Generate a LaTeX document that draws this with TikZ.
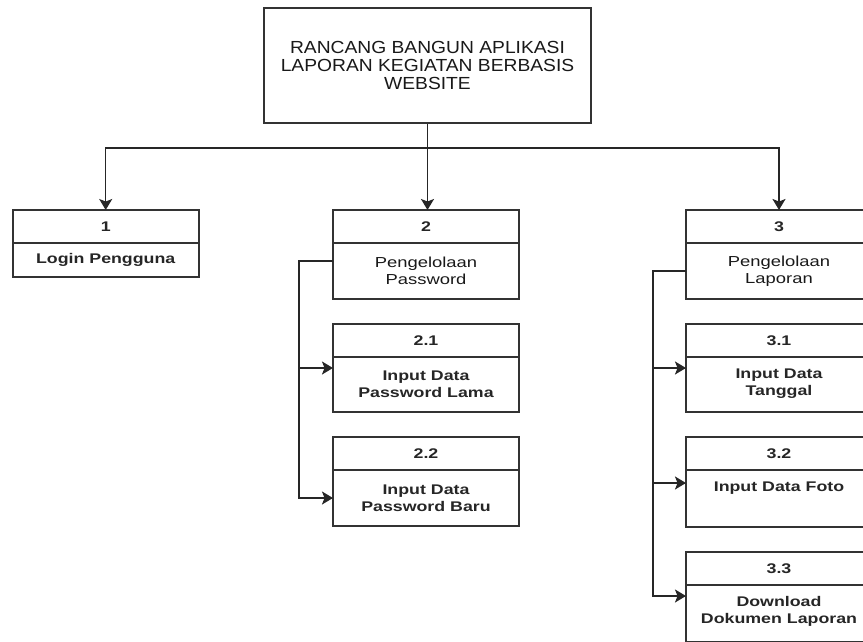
\documentclass[tikz,border=0pt]{standalone}
\usepackage{fontspec}
\setmainfont{Liberation Sans}
\newfontfamily\titlefont[FakeStretch=1.1]{Liberation Sans}
\newfontfamily\boxfont[FakeStretch=1.27]{Liberation Sans}
\usetikzlibrary{arrows.meta,calc}

\tikzset{
  frame/.style={rectangle, draw=black!80, line width=2.4pt, fill=white,
    minimum width=186pt, inner sep=0pt, outer sep=0pt, anchor=north west},
  divider/.style={draw=black!80, line width=2.2pt},
  boxtext/.style={font=\boxfont\fontsize{14.5}{17}\selectfont, align=center,
    inner sep=0pt, text=black!90},
  boldtext/.style={boxtext, font=\boxfont\bfseries\fontsize{14}{17}\selectfont,
    text=black!85},
  conn/.style={draw=black!85, line width=1.4pt},
  arrow/.style={conn, -{Stealth[length=11pt,width=13pt,inset=2.5pt]}},
}

% swimlane box: name, left, top, height, number
\newcommand\swimbox[5]{%
  \node[frame, minimum height=#4pt] (#1) at (#2,#3) {};
  \draw[divider] ($(#1.north west)+(0,33)$) -- ($(#1.north east)+(0,33)$);
  \node[boldtext] (#1-num) at ($(#1.north)+(0,16.5)$) {#5};
}

\begin{document}
\begin{tikzpicture}[x=1pt,y=-1pt]
  \useasboundingbox (0,0) rectangle (863,641);

  % title box
  \node[rectangle, draw=black!80, line width=2pt, fill=white, anchor=north west,
        minimum width=327pt, minimum height=115pt, inner sep=0pt] (top) at (263,7) {};
  \node[font=\titlefont\fontsize{17.5}{18}\selectfont, align=center, inner sep=0pt,
        text=black!90] (title) at (top.center)
        {RANCANG BANGUN APLIKASI\\LAPORAN KEGIATAN BERBASIS\\WEBSITE};

  % first level
  \swimbox{b1}{12.7}{210}{67}{1}
  \node[boldtext] (b1-txt) at (105.7,260) {Login Pengguna};

  \swimbox{b2}{333}{210}{89}{2}
  \node[boxtext] (b2-txt) at (426,271) {Pengelolaan\\Password};

  \swimbox{b3}{686}{210}{89}{3}
  \node[boxtext] (b3-txt) at (779,271) {Pengelolaan\\Laporan};

  % password branch
  \swimbox{b21}{333}{324}{88}{2.1}
  \node[boldtext] (b21-txt) at (426,384) {Input Data\\Password Lama};

  \swimbox{b22}{333}{437}{89}{2.2}
  \node[boldtext] (b22-txt) at (426,498) {Input Data\\Password Baru};

  % report branch
  \swimbox{b31}{686}{324}{88}{3.1}
  \node[boldtext] (b31-txt) at (779,384) {Input Data\\Tanggal};

  \swimbox{b32}{686}{437}{90}{3.2}
  \node[boldtext] (b32-txt) at (779,488) {Input Data Foto};

  \swimbox{b33}{686}{552}{90}{3.3}
  \node[boldtext] (b33-txt) at (779,611) {Download\\Dokumen Laporan};

  % connectors from the title
  \draw[arrow] (top.south) -- ++(0,24) -| (b1.north);
  \draw[arrow] (top.south) -- (top.south |- b2.north);
  \draw[arrow] (top.south) -- ++(0,24) -| (b3.north);

  % password sub-functions
  \draw[arrow] ($(b2.north west)+(0,51)$) -- ++(-34,0) |- ($(b21.north west)+(0,44)$);
  \draw[arrow] ($(b2.north west)+(0,51)$) -- ++(-34,0) |- ($(b22.north west)+(0,61)$);

  % report sub-functions
  \draw[arrow] ($(b3.north west)+(0,61)$) -- ++(-33,0) |- ($(b31.north west)+(0,44)$);
  \draw[arrow] ($(b3.north west)+(0,61)$) -- ++(-33,0) |- ($(b32.north west)+(0,46)$);
  \draw[arrow] ($(b3.north west)+(0,61)$) -- ++(-33,0) |- ($(b33.north west)+(0,44)$);
\end{tikzpicture}
\end{document}
